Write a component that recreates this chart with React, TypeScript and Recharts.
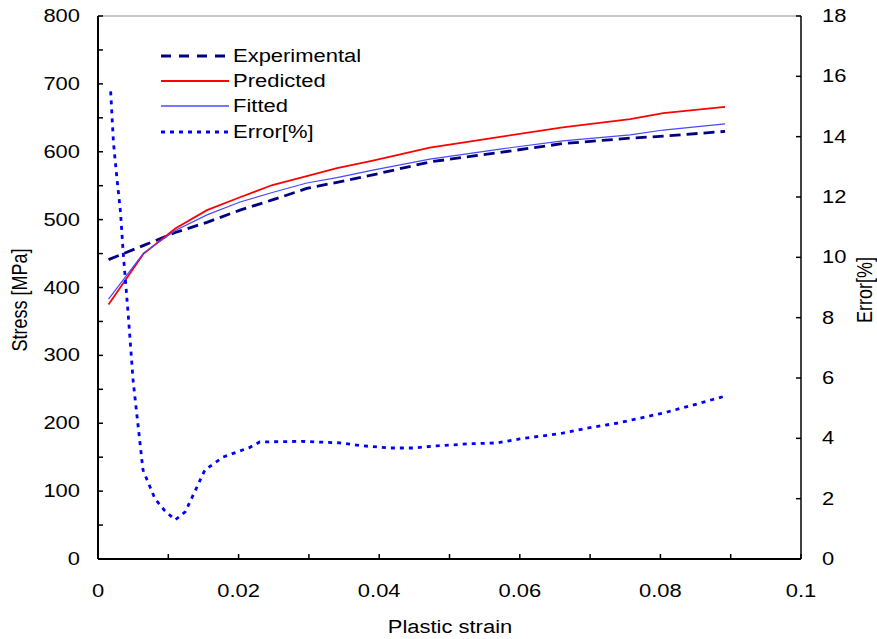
import React from "react";
import {
  LineChart,
  Line,
  XAxis,
  YAxis,
  ReferenceLine,
} from "recharts";

// strain values shared by the three stress curves
const strainPts = [0.0015, 0.0065, 0.011, 0.0155, 0.0202, 0.0248, 0.0297, 0.034, 0.0391, 0.0472, 0.0572, 0.0661, 0.0757, 0.0804, 0.0892];
const experimental = [441, 462, 481, 496, 514, 529, 546, 555, 566, 585, 599, 612, 620, 623, 630];
const predicted = [375, 450, 487, 514, 533, 551, 564, 576, 587, 606, 622, 636, 648, 657, 666];
const fitted = [383, 451, 484, 507, 526, 540, 554, 562, 573, 589, 604, 616, 625, 632, 641];

const errStrain = [0.0018, 0.0022, 0.0027, 0.0032, 0.0036, 0.0043, 0.005, 0.0064, 0.0081, 0.0095, 0.011, 0.0124, 0.0134, 0.0152, 0.0178, 0.0216, 0.023, 0.029, 0.0344, 0.0377, 0.0415, 0.0448, 0.0482, 0.0529, 0.0568, 0.06, 0.0661, 0.0696, 0.0738, 0.0771, 0.0804, 0.0846, 0.0892];
const errValues = [15.5, 13.8, 12.6, 11.5, 10.1, 8.1, 5.9, 2.95, 2.0, 1.6, 1.3, 1.56, 2.05, 2.95, 3.38, 3.7, 3.88, 3.9, 3.85, 3.75, 3.68, 3.68, 3.75, 3.82, 3.85, 3.98, 4.17, 4.34, 4.5, 4.67, 4.84, 5.1, 5.4];

const xTicks = [0, 0.01, 0.02, 0.03, 0.04, 0.05, 0.06, 0.07, 0.08, 0.09, 0.1];
const stressTicks = [0, 50, 100, 150, 200, 250, 300, 350, 400, 450, 500, 550, 600, 650, 700, 750, 800];
const errorTicks = [0, 2, 4, 6, 8, 10, 12, 14, 16, 18];

const seriesNames = ["Experimental", "Predicted", "Fitted", "Error[%]"];

const FONT = "'Liberation Sans', Arial, sans-serif";
const STRETCH = 1.22;

const toPoints = (xs: number[], ys: number[]) => xs.map((x, i) => ({ x, y: ys[i] }));

const expData = toPoints(strainPts, experimental);
const predData = toPoints(strainPts, predicted);
const fitData = toPoints(strainPts, fitted);
const errData = toPoints(errStrain, errValues);

const lineStyles = [
  { stroke: "#000080", strokeWidth: 2.8, dash: "11 6" },
  { stroke: "#ff0000", strokeWidth: 1.8, dash: undefined },
  { stroke: "#4848ff", strokeWidth: 1.2, dash: undefined },
  { stroke: "#0000ff", strokeWidth: 2.8, dash: "4 5" },
];

function StretchText({ x, y, anchor, children }: any) {
  return (
    <text
      transform={`translate(${x},${y}) scale(${STRETCH},1)`}
      textAnchor={anchor}
      fontFamily={FONT}
      fontSize={18}
      fill="#000"
    >
      {children}
    </text>
  );
}

function LeftTick(props: any) {
  const v = props.payload.value;
  if (v % 100 !== 0) return null;
  return <StretchText x={80} y={props.y + 6} anchor="end">{v}</StretchText>;
}

function RightTick(props: any) {
  const v = props.payload.value;
  return <StretchText x={822} y={props.y + 6} anchor="start">{v}</StretchText>;
}

function BottomTick(props: any) {
  const v = props.payload.value;
  if (Math.round(v * 100) % 2 !== 0) return null;
  return <StretchText x={props.x} y={597} anchor="middle">{String(v)}</StretchText>;
}

function LegendBox() {
  return (
    <div style={{ position: "absolute", left: 161, top: 43, fontFamily: FONT, fontSize: 18 }}>
      {seriesNames.map((name, i) => (
        <div key={name} style={{ display: "flex", alignItems: "center", height: 25.3 }}>
          <svg width={72} height={10}>
            <line
              x1={0}
              y1={5}
              x2={68}
              y2={5}
              stroke={lineStyles[i].stroke}
              strokeWidth={i === 2 ? 2 : lineStyles[i].strokeWidth}
              strokeOpacity={i === 2 ? 0.75 : 1}
              strokeDasharray={i === 0 ? "10 8" : lineStyles[i].dash}
            />
          </svg>
          <span style={{ display: "inline-block", transform: `scaleX(${STRETCH})`, transformOrigin: "left center", lineHeight: "20px" }}>
            {name}
          </span>
        </div>
      ))}
    </div>
  );
}

const titleStyle: React.CSSProperties = {
  position: "absolute",
  fontFamily: FONT,
  fontSize: 18,
  whiteSpace: "nowrap",
  color: "#000",
};

export default function App() {
  return (
    <div style={{ position: "absolute", left: 0, top: 0, width: 877, height: 639, background: "#fff" }}>
      <LineChart width={877} height={639} margin={{ top: 16, right: 0, bottom: 0, left: 0 }}>
        <XAxis
          xAxisId="x"
          type="number"
          dataKey="x"
          domain={[0, 0.1]}
          ticks={xTicks}
          height={80}
          tick={<BottomTick />}
          tickSize={-5}
          axisLine={{ stroke: "#000", strokeWidth: 2 }}
          tickLine={{ stroke: "#000", strokeWidth: 1.5 }}
          allowDataOverflow
        />
        <YAxis
          yAxisId="stress"
          orientation="left"
          domain={[0, 800]}
          ticks={stressTicks}
          width={98}
          tick={<LeftTick />}
          tickSize={-5}
          axisLine={{ stroke: "#000", strokeWidth: 2 }}
          tickLine={{ stroke: "#000", strokeWidth: 1.5 }}
        />
        <YAxis
          yAxisId="error"
          orientation="right"
          domain={[0, 18]}
          ticks={errorTicks}
          width={76}
          tick={<RightTick />}
          tickSize={-5}
          axisLine={{ stroke: "#000", strokeWidth: 1.5 }}
          tickLine={{ stroke: "#000", strokeWidth: 1.5 }}
        />
        <ReferenceLine xAxisId="x" yAxisId="stress" y={800} stroke="#8c8c8c" strokeWidth={1} />
        <Line xAxisId="x" yAxisId="stress" data={expData} dataKey="y" name={seriesNames[0]} type="linear"
          stroke={lineStyles[0].stroke} strokeWidth={lineStyles[0].strokeWidth} strokeDasharray={lineStyles[0].dash}
          dot={false} isAnimationActive={false} />
        <Line xAxisId="x" yAxisId="stress" data={predData} dataKey="y" name={seriesNames[1]} type="linear"
          stroke={lineStyles[1].stroke} strokeWidth={lineStyles[1].strokeWidth}
          dot={false} isAnimationActive={false} />
        <Line xAxisId="x" yAxisId="stress" data={fitData} dataKey="y" name={seriesNames[2]} type="linear"
          stroke={lineStyles[2].stroke} strokeWidth={lineStyles[2].strokeWidth}
          dot={false} isAnimationActive={false} />
        <Line xAxisId="x" yAxisId="error" data={errData} dataKey="y" name={seriesNames[3]} type="linear"
          stroke={lineStyles[3].stroke} strokeWidth={lineStyles[3].strokeWidth} strokeDasharray={lineStyles[3].dash}
          dot={false} isAnimationActive={false} />
      </LineChart>
      <LegendBox />
      <div style={{ ...titleStyle, left: 450, top: 627, transform: `translate(-50%,-50%) scale(${STRETCH},1)` }}>
        Plastic strain
      </div>
      <div style={{ ...titleStyle, left: 20, top: 300, transform: `translate(-50%,-50%) scale(${STRETCH},1) rotate(-90deg)` }}>
        Stress [MPa]
      </div>
      <div style={{ ...titleStyle, left: 865, top: 290, transform: `translate(-50%,-50%) scale(${STRETCH},1) rotate(-90deg)` }}>
        Error[%]
      </div>
    </div>
  );
}
